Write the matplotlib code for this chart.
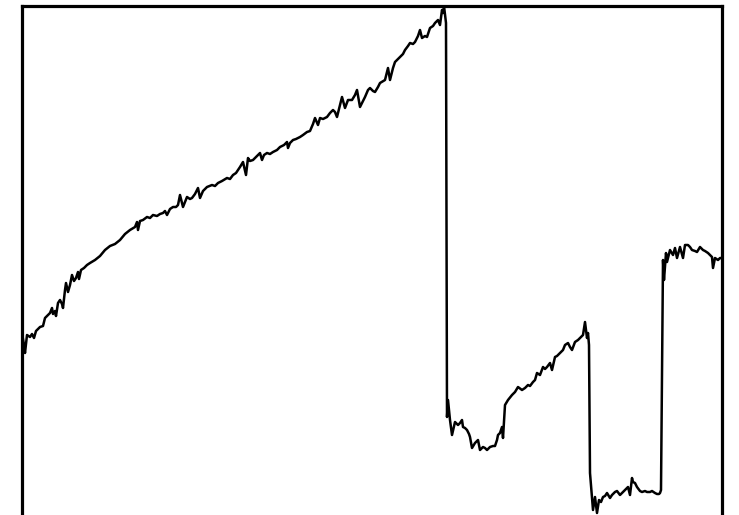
import matplotlib
matplotlib.use("Agg")
import matplotlib.pyplot as plt

# Sample positions along the horizontal axis
t = [
    0, 2, 3, 5, 8, 10, 12, 14, 18, 21, 23, 26, 28, 30, 31, 33, 34, 36, 38, 40,
    41, 43, 44, 46, 48, 50, 52, 54, 56, 57, 59, 62, 65, 68, 73, 78, 83, 88, 93, 98,
    103, 108, 113, 115, 116, 118, 121, 125, 128, 131, 135, 138, 141, 143, 145, 148,
    151, 154, 156, 158, 161, 165, 168, 170, 173, 176, 178, 181, 185, 190, 193, 196,
    200, 205, 208, 211, 214, 218, 221, 224, 226, 228, 231, 234, 238, 240, 242, 245,
    248, 251, 255, 258, 262, 265, 266, 268, 271, 274, 278, 281, 285, 288, 291, 293,
    296, 298, 301, 305, 308, 311, 313, 315, 318, 320, 323, 326, 330, 333, 335, 338,
    341, 343, 346, 348, 351, 353, 356, 358, 363, 365, 366, 368, 371, 373, 378, 381,
    383, 386, 388, 391, 393, 396, 398, 400, 403, 405, 408, 411, 413, 416, 418, 420,
    421, 422, 424,
    425, 426, 428, 430, 433, 436, 438, 440, 441, 443, 445, 447, 448, 450, 453, 456,
    458, 461, 463, 465, 468, 471, 473, 475, 476, 478, 480, 481, 483, 486, 490, 493,
    496, 500, 503, 506, 508, 511, 513, 515, 518, 521, 523, 525, 528, 530, 533, 535,
    538, 541, 543, 546, 548, 550, 553, 556, 558, 561, 563, 565, 566, 567,
    568, 570, 571, 573, 575, 577, 579, 581, 583, 585, 588, 590, 593, 595, 598, 600,
    603, 606, 608, 610, 611, 613, 615, 618, 620, 623, 625, 628, 630, 633, 635, 637,
    638, 639,
    641, 642, 644, 645, 646, 648, 651, 653, 655, 658, 661, 663, 666, 668, 670, 673,
    675, 678, 681, 683, 686, 688, 690, 691, 693, 696, 698, 699,
]

# Signal level at each sample
level = [
    182, 170, 162, 180, 178, 181, 177, 184, 188, 189, 197, 200, 202, 207, 201, 204,
    199, 212, 215, 211, 207, 225, 232, 223, 230, 240, 234, 237, 243, 236, 245, 247,
    250, 252, 255, 259, 265, 269, 271, 275, 281, 285, 288, 293, 285, 294, 295, 298,
    297, 300, 299, 301, 302, 304, 300, 306, 308, 308, 310, 320, 308, 318, 316, 317,
    321, 327, 317, 324, 328, 330, 329, 332, 334, 337, 336, 340, 342, 348, 353, 340,
    357, 354, 355, 358, 362, 355, 360, 362, 361, 363, 365, 368, 370, 373, 367, 372,
    375, 376, 378, 380, 383, 384, 391, 397, 390, 397, 396, 398, 402, 405, 403, 398,
    410, 418, 407, 415, 415, 420, 425, 408, 414, 418, 425, 427, 424, 423, 428, 432,
    435, 443, 447, 435, 447, 453, 458, 461, 465, 469, 472, 471, 473, 479, 485, 477,
    479, 478, 487, 489, 492, 495, 490, 505, 502, 509, 492,
    98, 115, 95, 80, 93, 90, 92, 95, 88, 87, 85, 81, 78, 67, 72, 75,
    65, 68, 67, 65, 68, 69, 69, 75, 80, 82, 88, 77, 110, 115, 120, 123,
    128, 125, 127, 130, 129, 133, 135, 142, 140, 148, 146, 148, 152, 145, 158, 159,
    162, 165, 170, 172, 168, 165, 173, 175, 177, 180, 193, 177, 182, 170,
    42, 18, 5, 18, 2, 15, 13, 18, 19, 22, 17, 20, 23, 24, 20, 22,
    25, 28, 20, 37, 33, 32, 28, 24, 23, 24, 23, 23, 24, 22, 21, 21,
    22, 25,
    255, 235, 262, 253, 257, 265, 260, 267, 257, 268, 257, 270, 270, 268, 265, 264,
    263, 268, 265, 264, 262, 260, 258, 247, 257, 255, 257, 257,
]

fig = plt.figure(figsize=(7.39, 5.15), dpi=100)
ax = fig.add_axes([22 / 739, -4 / 515, 700 / 739, 513 / 515])

ax.plot(t, level, color="black", linewidth=1.8, solid_joinstyle="round")

ax.set_xlim(0, 700)
ax.set_ylim(-4, 509)
ax.set_xticks([])
ax.set_yticks([])
for spine in ax.spines.values():
    spine.set_linewidth(2.3)
    spine.set_color("black")

fig.savefig("out.png", dpi=100)
